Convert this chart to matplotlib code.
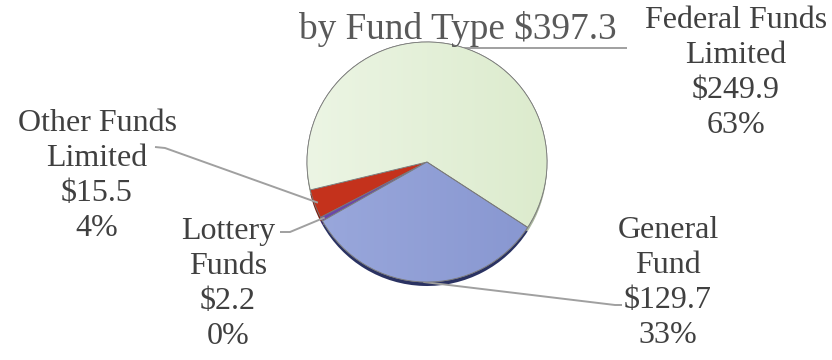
import numpy as np
import matplotlib.pyplot as plt

# fund totals, millions
funds = ['Federal Funds\nLimited', 'Other Funds\nLimited', 'Lottery\nFunds', 'General\nFund']
amounts = [249.9, 15.5, 2.2, 129.7]
pcts = ['63%', '4%', '0%', '33%']
total = 397.3
title = 'by Fund Type $%.1f' % total

colors = ['#E4F0D8', '#C4321C', '#6A48A8', '#909FD6']
grad_left = ['#ECF5E4', None, None, '#9AA8DC']
grad_right = ['#DCEBCD', None, None, '#8796D0']
shade = ['#A8B49C', '#7A2012', '#3A2468', '#2A3262']

W, H = 832, 360
fig = plt.figure(figsize=(W / 100, H / 100), dpi=100)
ax = fig.add_axes([0, 0, 1, 1])

cx, cy, r = 427, 198, 120

# darker copy slightly below gives the rim at the bottom
ax.pie(amounts, colors=shade, startangle=-33, counterclock=True,
       center=(cx, cy - 4), radius=r, wedgeprops=dict(linewidth=0))
wedges, _ = ax.pie(amounts, colors=colors, startangle=-33, counterclock=True,
                   center=(cx, cy), radius=r,
                   wedgeprops=dict(edgecolor='#7A7A7A', linewidth=0.6))

# soft left-to-right shading on the large slices
for w, c0, c1 in zip(wedges, grad_left, grad_right):
    if c0 is None:
        continue
    a = np.array(plt.matplotlib.colors.to_rgb(c0))
    b = np.array(plt.matplotlib.colors.to_rgb(c1))
    t = np.linspace(0, 1, 256)[None, :, None]
    img = a + (b - a) * t
    im = ax.imshow(np.repeat(img, 2, axis=0), extent=(cx - r, cx + r, cy - r, cy + r),
                   zorder=w.get_zorder() + 0.1, aspect='auto')
    im.set_clip_path(w)
    outline = plt.matplotlib.patches.Wedge((cx, cy), r, w.theta1, w.theta2,
                                           facecolor='none', edgecolor='#7A7A7A',
                                           linewidth=0.6, zorder=w.get_zorder() + 0.2)
    ax.add_patch(outline)

txt = dict(family='Liberation Serif', fontsize=23, color='#404040',
           ha='center', va='center', linespacing=1.28)
lead = dict(color='#A0A0A0', linewidth=1.4, solid_capstyle='butt', zorder=1)

def anchor(w, k=1.0):
    mid = np.deg2rad((w.theta1 + w.theta2) / 2)
    return cx + k * r * np.cos(mid), cy + k * r * np.sin(mid)

# label text positions and leader elbows, in pixels from bottom-left
lab_xy = [(736, 287), (97, 184), (228, 76), (668, 77)]
elbows = [[(627, None)], [(165, 212), (155, 213)], [(290, 128), (280, 128)],
          [(615, 55), (622, 55)]]

for i, w in enumerate(wedges):
    text = '%s\n$%.1f\n%s' % (funds[i], amounts[i], pcts[i])
    ax.text(*lab_xy[i], text, **txt)
    ax0, ay0 = anchor(w, 0.97 if i in (1, 2) else 1.0)
    xs, ys = [ax0], [ay0 - (4 if i == 0 else 0)]
    for ex, ey in elbows[i]:
        xs.append(ex)
        ys.append(ys[0] if ey is None else ey)
    ax.plot(xs, ys, **lead)

ax.text(458, 331, title, family='Liberation Serif', fontsize=26.8,
        color='#595959', ha='center', va='center')

ax.set_xlim(0, W)
ax.set_ylim(0, H)
ax.set_aspect('auto')
ax.axis('off')

fig.savefig('out.png', dpi=100)
